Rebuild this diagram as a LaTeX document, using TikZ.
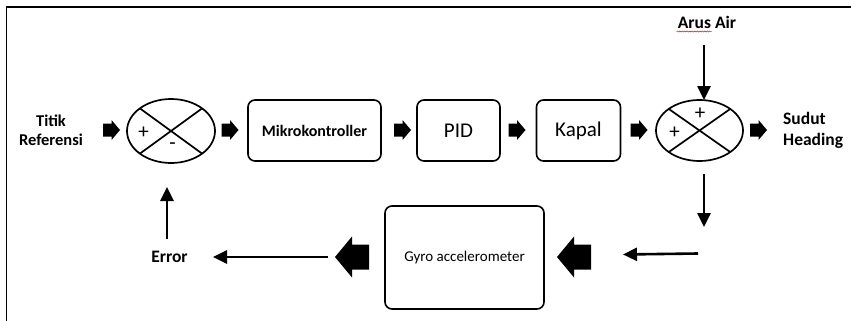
\documentclass[tikz,border=0pt]{standalone}
\usepackage{fontspec}
\setmainfont{Carlito}
\usetikzlibrary{shapes.geometric,arrows.meta,decorations.pathmorphing}
\begin{document}
\begin{tikzpicture}[x=1pt,y=-1pt,
  blk/.style={draw,line width=1.6pt,rounded corners=7pt,inner sep=0pt,outer sep=0pt},
  sumj/.style={draw,ellipse,line width=1.7pt,inner sep=0pt,outer sep=0pt},
  conn/.style={line width=2.6pt,-{Triangle[length=14pt,width=13pt]}},
  lbl/.style={font=\bfseries\fontsize{17.5}{21}\selectfont,inner sep=0pt},
  sgn/.style={font=\fontsize{21}{24}\selectfont,inner sep=0pt},
  rarrow/.pic={\fill (-8.5,-6.5) -- (0,-6.5) -- (0,-10) -- (8.5,0) -- (0,10) -- (0,6.5) -- (-8.5,6.5) -- cycle;},
  larrow/.pic={\fill (17,-12.5) -- (0,-12.5) -- (0,-20.5) -- (-17,0) -- (0,20.5) -- (0,12.5) -- (17,12.5) -- cycle;}
]
\useasboundingbox (0,0) rectangle (851,321);
% frame
\draw[line width=1.8pt] (6.5,321) -- (6.5,7) -- (851,7);

% labels
\node[lbl,align=center,font=\bfseries\fontsize{16.5}{19}\selectfont] (ref) at (51,130) {Titik\\Referensi};
\node[lbl,align=left,anchor=west] (out) at (783,130) {Sudut\\Heading};
\node[lbl] (arus) at (707,22) {Arus Air};
\node[lbl] (err) at (169.5,257) {Error};
\draw[red,line width=0.5pt,decorate,decoration={snake,amplitude=0.6pt,segment length=2.5pt}] (676.5,31.5) -- (711.5,31.5);

% summing junctions
\node[sumj,minimum width=88pt,minimum height=64pt] (e1) at (171,131) {};
\draw[line width=1.7pt] (e1.north west) -- (e1.south east) (e1.north east) -- (e1.south west);
\node[sgn] (p1) at (143.5,132.5) {+};
\node[sgn] (m1) at (172.5,146) {-};

\node[sumj,minimum width=87pt,minimum height=61pt] (e2) at (699.5,130.5) {};
\draw[line width=1.7pt] (e2.north west) -- (e2.south east) (e2.north east) -- (e2.south west);
\node[sgn] (p2) at (700,114) {+};
\node[sgn] (p3) at (674.5,133) {+};

% blocks
\node[blk,minimum width=133pt,minimum height=61pt,font=\bfseries\fontsize{16}{19}\selectfont] (mk) at (314.5,130.5) {Mikrokontroller};
\node[blk,minimum width=83pt,minimum height=61pt,font=\fontsize{21}{25}\selectfont] (pid) at (458.5,130.5) {PID};
\node[blk,minimum width=84pt,minimum height=61pt,font=\fontsize{21}{25}\selectfont] (kp) at (578.5,130.5) {Kapal};
\node[blk,minimum width=159pt,minimum height=103pt,font=\fontsize{15}{18}\selectfont] (gy) at (464.5,257.5) {Gyro accelerometer};

% block arrows
\pic at (111.5,130) {rarrow};
\pic at (230,130) {rarrow};
\pic at (402.5,130) {rarrow};
\pic at (517,130) {rarrow};
\pic at (639,130) {rarrow};
\pic at (758.5,130) {rarrow};
\pic at (574,257) {larrow};
\pic at (352,257) {larrow};

% connectors
\coordinate (ain) at (704,45);
\draw[conn] (ain) -- (ain |- e2.north);
\coordinate (d1) at (704,174);
\coordinate (d2) at (704,227);
\draw[conn] (d1) -- (d2);
\coordinate (l1) at (698,253.5);
\coordinate (l2) at (623,254.5);
\draw[conn] (l1) -- (l2);
\coordinate (f1) at (328,257);
\coordinate (f2) at (213,257);
\draw[conn] (f1) -- (f2);
\coordinate (u1) at (167,239);
\coordinate (u2) at (167,187);
\draw[conn] (u1) -- (u2);
\end{tikzpicture}
\end{document}
